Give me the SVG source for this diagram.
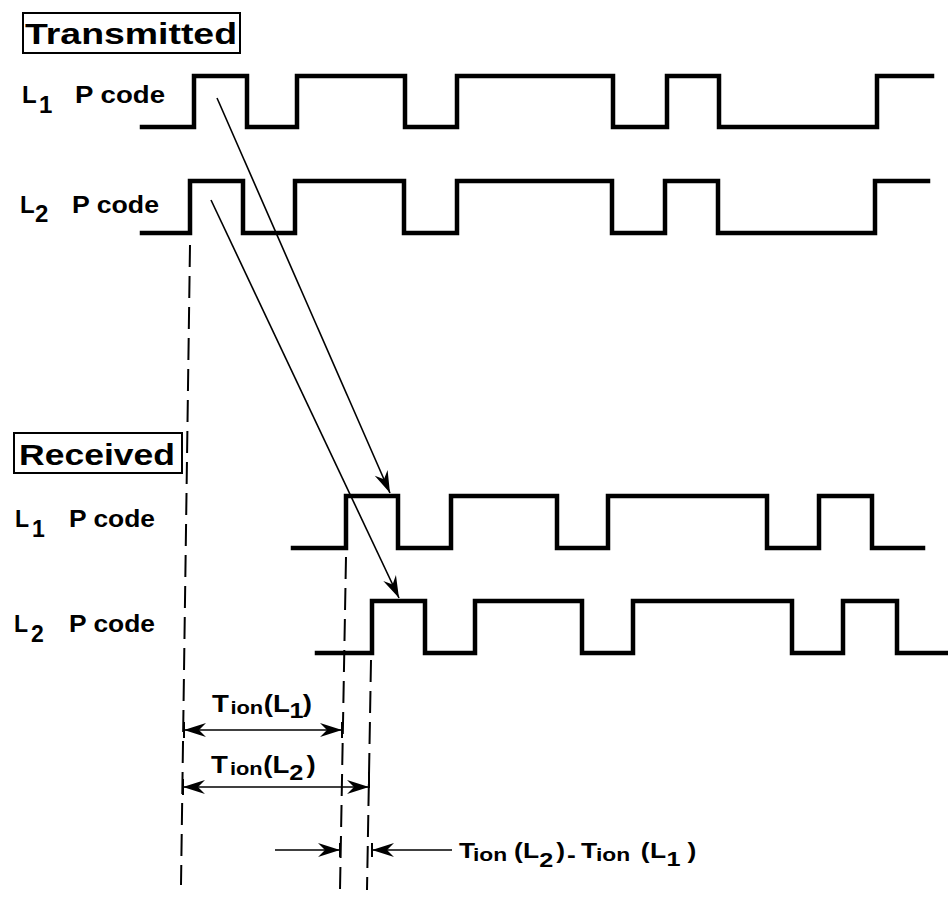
<svg xmlns="http://www.w3.org/2000/svg" width="948" height="899" viewBox="0 0 948 899">
<defs>
<style>
.t{font-family:"Liberation Sans",Arial,sans-serif;font-weight:bold;fill:#000}
.wave{fill:none;stroke:#000;stroke-width:4.5;stroke-linejoin:miter;stroke-linecap:square}
.box{fill:none;stroke:#000;stroke-width:2}
.arr{fill:none;stroke:#000;stroke-width:1.6}
.dash{fill:none;stroke:#000;stroke-width:2;stroke-dasharray:22 9}
.tick{stroke:#000;stroke-width:2}
</style>
<marker id="ah" viewBox="-24 -8 26 16" refX="0" refY="0" markerWidth="26" markerHeight="16" markerUnits="userSpaceOnUse" orient="auto-start-reverse">
<path d="M0,0 L-22,-7 L-15,0 L-22,7 Z" fill="#000"/>
</marker>
</defs>
<rect width="948" height="899" fill="#fff"/>

<g id="title-transmitted">
<rect class="box" x="23" y="13" width="217" height="40"/>
<text class="t" x="25" y="44" font-size="29" textLength="212" lengthAdjust="spacingAndGlyphs">Transmitted</text>
</g>
<g id="title-received">
<rect class="box" x="14" y="433" width="168" height="40"/>
<text class="t" x="19" y="465" font-size="30" textLength="156" lengthAdjust="spacingAndGlyphs">Received</text>
</g>

<g id="label-tx-l1">
<text class="t" x="22" y="103" font-size="24">L</text>
<text class="t" x="39" y="113" font-size="24">1</text>
<text class="t" x="75" y="103" font-size="23" textLength="90" lengthAdjust="spacingAndGlyphs">P code</text>
</g>
<g id="label-tx-l2">
<text class="t" x="20" y="213" font-size="24">L</text>
<text class="t" x="35" y="222" font-size="24">2</text>
<text class="t" x="72" y="213" font-size="23" textLength="87" lengthAdjust="spacingAndGlyphs">P code</text>
</g>
<g id="label-rx-l1">
<text class="t" x="15" y="527" font-size="23">L</text>
<text class="t" x="32" y="537" font-size="23">1</text>
<text class="t" x="69" y="527" font-size="23" textLength="86" lengthAdjust="spacingAndGlyphs">P code</text>
</g>
<g id="label-rx-l2">
<text class="t" x="14" y="632" font-size="23">L</text>
<text class="t" x="31" y="642" font-size="23">2</text>
<text class="t" x="69" y="632" font-size="23" textLength="86" lengthAdjust="spacingAndGlyphs">P code</text>
</g>

<g id="wave-tx-l1"><path class="wave" d="M142,127 H194 V76 H247 V127 H297 V76 H405 V127 H457 V76 H613 V127 H667 V76 H719 V127 H877 V76 H932"/></g>
<g id="wave-tx-l2"><path class="wave" d="M142,233 H190 V181 H243 V233 H295 V181 H404 V233 H457 V181 H612 V233 H665 V181 H718 V233 H875 V181 H928"/></g>
<g id="wave-rx-l1"><path class="wave" d="M293,548 H346 V496 H398 V548 H451 V496 H557 V548 H608 V496 H767 V548 H819 V496 H872 V548 H923"/></g>
<g id="wave-rx-l2"><path class="wave" d="M317,653 H372 V601 H425 V653 H475 V601 H582 V653 H633 V601 H792 V653 H843 V601 H897 V653 H946"/></g>

<g id="connectors">
<line class="arr" x1="217" y1="98" x2="390" y2="493" marker-end="url(#ah)"/>
<line class="arr" x1="211" y1="200" x2="399" y2="598" marker-end="url(#ah)"/>
<line class="dash" x1="190" y1="245" x2="181" y2="885"/>
<line class="dash" x1="346" y1="557" x2="340" y2="890"/>
<line class="dash" x1="371" y1="660" x2="367" y2="890"/>
<line class="arr" x1="184" y1="730" x2="342" y2="730" marker-start="url(#ah)" marker-end="url(#ah)"/>
<line class="tick" x1="184" y1="722" x2="184" y2="738"/>
<line class="tick" x1="342" y1="722" x2="342" y2="738"/>
<line class="arr" x1="183" y1="787" x2="369" y2="787" marker-start="url(#ah)" marker-end="url(#ah)"/>
<line class="tick" x1="183" y1="779" x2="183" y2="795"/>
<line class="tick" x1="369" y1="772" x2="369" y2="788"/>
<line class="arr" x1="275" y1="850" x2="340" y2="850" marker-end="url(#ah)"/>
<line class="arr" x1="452" y1="850" x2="372" y2="850" marker-end="url(#ah)"/>
<line class="tick" x1="340" y1="843" x2="340" y2="857"/>
<line class="tick" x1="372" y1="843" x2="372" y2="857"/>
</g>

<g id="label-tion-l1">
<text class="t" font-size="24" transform="translate(212,712) scale(1.15,1)"><tspan x="0" y="0">T</tspan><tspan x="16" y="2" font-size="19">ion</tspan><tspan x="45" y="0">(</tspan><tspan x="53" y="0">L</tspan><tspan x="67.5" y="6" font-size="22">1</tspan><tspan x="79" y="0">)</tspan></text>
</g>
<g id="label-tion-l2">
<text class="t" font-size="24" transform="translate(211,773) scale(1.15,1)"><tspan x="0" y="0">T</tspan><tspan x="16.5" y="2" font-size="19">ion</tspan><tspan x="45.5" y="0">(</tspan><tspan x="53.5" y="0">L</tspan><tspan x="68" y="7" font-size="22">2</tspan><tspan x="83" y="0">)</tspan></text>
</g>
<g id="label-diff">
<text class="t" font-size="22" transform="translate(459,858) scale(1.2,1)"><tspan x="0" y="0">T</tspan><tspan x="11.7" y="3" font-size="19">ion</tspan><tspan x="45.8" y="0">(</tspan><tspan x="53.3" y="0">L</tspan><tspan x="66.8" y="9" font-size="21">2</tspan><tspan x="81" y="0">)</tspan><tspan x="90" y="4">-</tspan><tspan x="101.7" y="0">T</tspan><tspan x="114.2" y="3" font-size="19">ion</tspan><tspan x="151.5" y="0">(</tspan><tspan x="159.2" y="0">L</tspan><tspan x="173" y="8" font-size="21">1</tspan><tspan x="190.5" y="0">)</tspan></text>
</g>
</svg>
